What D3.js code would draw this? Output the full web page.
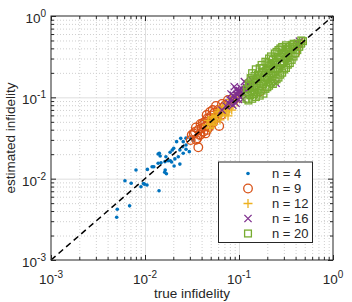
<!DOCTYPE html>
<html>
<head>
<meta charset="utf-8">
<script src="https://cdn.jsdelivr.net/npm/d3@7"></script>
<style>
  body { margin: 0; background: #fff; }
  text { font-family: "Liberation Sans", Arial, sans-serif; fill: #262626; }
</style>
</head>
<body>
<script>
// data: [true infidelity, estimated infidelity]
const n4 = [
  [0.0050, 0.00335], [0.00507, 0.0042], [0.00686, 0.00463], [0.00612, 0.00944], [0.00713, 0.00879],
  [0.00802, 0.0128], [0.00906, 0.00796], [0.00964, 0.00873], [0.00989, 0.00853], [0.0105, 0.00836],
  [0.0106, 0.0130], [0.0141, 0.00711], [0.0124, 0.0140], [0.0138, 0.0201], [0.0142, 0.0205],
  [0.0138, 0.0155], [0.0145, 0.0190], [0.0148, 0.0157], [0.0162, 0.0120], [0.0169, 0.0115],
  [0.0167, 0.0186], [0.0163, 0.0162], [0.0176, 0.0166], [0.0186, 0.0166], [0.0185, 0.0211],
  [0.0195, 0.0225], [0.0202, 0.0236], [0.0204, 0.0143], [0.0208, 0.0175], [0.0192, 0.0160],
  [0.0217, 0.0285], [0.0240, 0.0313], [0.0226, 0.0186], [0.0235, 0.0225], [0.0235, 0.0151],
  [0.0252, 0.0247], [0.0255, 0.0205], [0.0255, 0.0285], [0.0273, 0.0230], [0.0273, 0.0259],
  [0.0296, 0.0215], [0.0308, 0.0313], [0.0164, 0.0128], [0.0119, 0.0140], [0.0325, 0.0298],
  [0.0273, 0.0315]
];
const n9 = [
  [0.0314, 0.0344], [0.0360, 0.0313], [0.0369, 0.0243], [0.0401, 0.0416], [0.0435, 0.0501],
  [0.0453, 0.0607], [0.0483, 0.0552], [0.0525, 0.0698], [0.0616, 0.0445], [0.0340, 0.0375],
  [0.0382, 0.0344], [0.0414, 0.0457], [0.0468, 0.0470], [0.0491, 0.0661], [0.0542, 0.0557],
  [0.0569, 0.0783], [0.0600, 0.0700], [0.0659, 0.0828], [0.0764, 0.0927], [0.397, 0.354],
  [0.420, 0.440], [0.0306, 0.0298], [0.0457, 0.0398], [0.0600, 0.0640], [0.0348, 0.0426],
  [0.167, 0.118], [0.033, 0.036], [0.035, 0.030], [0.037, 0.040], [0.039, 0.035],
  [0.041, 0.048], [0.042, 0.038], [0.044, 0.044], [0.046, 0.055], [0.048, 0.043],
  [0.050, 0.050], [0.051, 0.060], [0.053, 0.049], [0.055, 0.065], [0.058, 0.057],
  [0.062, 0.068], [0.065, 0.061], [0.068, 0.075], [0.071, 0.080], [0.044, 0.036],
  [0.039, 0.047]
];
const n12 = [
  [0.0457, 0.0457], [0.0516, 0.0557], [0.0556, 0.0498], [0.0598, 0.0661], [0.0644, 0.0590],
  [0.0692, 0.0740], [0.0728, 0.0661], [0.0784, 0.0851], [0.0822, 0.0760], [0.0885, 0.0982],
  [0.0953, 0.0877], [0.103, 0.113], [0.0491, 0.0420], [0.0628, 0.0527], [0.0764, 0.0590],
  [0.0837, 0.0698], [0.474, 0.478], [0.0570, 0.0600], [0.0530, 0.0460], [0.047, 0.052],
  [0.050, 0.047], [0.054, 0.058], [0.058, 0.054], [0.061, 0.070], [0.066, 0.064],
  [0.070, 0.068], [0.074, 0.079], [0.079, 0.072], [0.086, 0.090], [0.091, 0.095],
  [0.098, 0.104], [0.067, 0.078], [0.072, 0.062], [0.081, 0.094], [0.106, 0.108]
];
const n16 = [
  [0.0891, 0.135], [0.114, 0.156], [0.0929, 0.0845], [0.248, 0.149], [0.421, 0.461],
  [0.440, 0.490], [0.0801, 0.0927], [0.0868, 0.106], [0.0975, 0.116], [0.105, 0.130],
  [0.116, 0.123], [0.125, 0.146], [0.103, 0.101], [0.0728, 0.0783], [0.0659, 0.0698],
  [0.0822, 0.110], [0.137, 0.163], [0.110, 0.095], [0.078, 0.085], [0.084, 0.091],
  [0.090, 0.099], [0.095, 0.108], [0.099, 0.094], [0.107, 0.118], [0.112, 0.110],
  [0.118, 0.135], [0.122, 0.127], [0.130, 0.140], [0.094, 0.125], [0.101, 0.121],
  [0.086, 0.080], [0.120, 0.118]
];
const n20 = [
  [0.120, 0.0960], [0.121, 0.126], [0.126, 0.0915], [0.125, 0.116], [0.127, 0.148],
  [0.132, 0.106], [0.131, 0.138], [0.133, 0.172], [0.138, 0.0960], [0.137, 0.121],
  [0.139, 0.157], [0.138, 0.198], [0.145, 0.110], [0.144, 0.139], [0.146, 0.183],
  [0.151, 0.101], [0.150, 0.131], [0.152, 0.167], [0.151, 0.221], [0.158, 0.115],
  [0.157, 0.151], [0.159, 0.190], [0.166, 0.105], [0.165, 0.138], [0.167, 0.175],
  [0.166, 0.228], [0.174, 0.121], [0.173, 0.157], [0.175, 0.201], [0.174, 0.250],
  [0.182, 0.111], [0.181, 0.146], [0.183, 0.181], [0.182, 0.230], [0.191, 0.127],
  [0.190, 0.165], [0.192, 0.210], [0.191, 0.274], [0.200, 0.133], [0.199, 0.173],
  [0.201, 0.220], [0.200, 0.262], [0.209, 0.139], [0.208, 0.190], [0.210, 0.241],
  [0.209, 0.300], [0.219, 0.152], [0.218, 0.199], [0.220, 0.252], [0.219, 0.318],
  [0.229, 0.146], [0.228, 0.183], [0.230, 0.228], [0.229, 0.289], [0.240, 0.159],
  [0.239, 0.208], [0.241, 0.264], [0.240, 0.346], [0.251, 0.167], [0.250, 0.220],
  [0.252, 0.274], [0.251, 0.362], [0.263, 0.175], [0.262, 0.228], [0.264, 0.303],
  [0.263, 0.381], [0.275, 0.190], [0.274, 0.252], [0.276, 0.315], [0.275, 0.399],
  [0.288, 0.201], [0.287, 0.262], [0.289, 0.348], [0.288, 0.416], [0.302, 0.220],
  [0.301, 0.276], [0.303, 0.346], [0.316, 0.230], [0.315, 0.301], [0.317, 0.381],
  [0.316, 0.436], [0.331, 0.252], [0.330, 0.317], [0.332, 0.397], [0.347, 0.264],
  [0.346, 0.330], [0.348, 0.418], [0.363, 0.289], [0.362, 0.346], [0.364, 0.438],
  [0.380, 0.317], [0.379, 0.397], [0.381, 0.456], [0.398, 0.348], [0.397, 0.418],
  [0.417, 0.381], [0.416, 0.456], [0.437, 0.418], [0.457, 0.457], [0.479, 0.490],
  [0.460, 0.500]
];
const seriesNames = ["n = 4", "n = 9", "n = 12", "n = 16", "n = 20"];
const decades = [1e-3, 1e-2, 1e-1, 1];
const decadeExp = ["-3", "-2", "-1", "0"];

const colors = ["#0072BD", "#D95319", "#EDB120", "#7E2F8E", "#77AC30"];
const shapes = ["dot", "circle", "plus", "cross", "square"];
const allSeries = [n4, n9, n12, n16, n20];

const w = 352, h = 302;
const pLeft = 51, pRight = 333, pTop = 16, pBottom = 260;

const x = d3.scaleLog().domain([1e-3, 1]).range([pLeft, pRight]);
const y = d3.scaleLog().domain([1e-3, 1]).range([pBottom, pTop]);

const minorTicks = [];
decades.slice(0, 3).forEach(d => { for (let k = 2; k <= 9; k++) minorTicks.push(d * k); });

const svg = d3.select("body").append("svg").attr("width", w).attr("height", h);

// grid
function gridX(vals, color, dash) {
  const g = svg.append("g").attr("transform", `translate(0,${pBottom})`)
    .call(d3.axisBottom(x).tickValues(vals).tickSize(-(pBottom - pTop)).tickFormat(""));
  g.select(".domain").remove();
  g.selectAll("line").attr("stroke", color).attr("stroke-dasharray", dash);
}
function gridY(vals, color, dash) {
  const g = svg.append("g").attr("transform", `translate(${pLeft},0)`)
    .call(d3.axisLeft(y).tickValues(vals).tickSize(-(pRight - pLeft)).tickFormat(""));
  g.select(".domain").remove();
  g.selectAll("line").attr("stroke", color).attr("stroke-dasharray", dash);
}
gridX(minorTicks, "#cfcfcf", "1,2");
gridY(minorTicks, "#cfcfcf", "1,2");
gridX([1e-2, 1e-1], "#dedede", null);
gridY([1e-2, 1e-1], "#dedede", null);

// markers
function drawMarker(sel, shape, color) {
  if (shape === "dot") {
    sel.append("circle").attr("r", 1.8).attr("fill", color);
  } else if (shape === "circle") {
    sel.append("circle").attr("r", 4.3).attr("fill", "none").attr("stroke", color).attr("stroke-width", 1.3);
  } else if (shape === "plus") {
    sel.append("path").attr("d", "M-4.5,0H4.5M0,-4.5V4.5").attr("stroke", color).attr("stroke-width", 1.3);
  } else if (shape === "cross") {
    sel.append("path").attr("d", "M-3.6,-3.6L3.6,3.6M-3.6,3.6L3.6,-3.6").attr("stroke", color).attr("stroke-width", 1.3);
  } else {
    sel.append("rect").attr("x", -3.4).attr("y", -3.4).attr("width", 6.8).attr("height", 6.8)
      .attr("fill", "none").attr("stroke", color).attr("stroke-width", 1.3);
  }
}

allSeries.forEach((data, i) => {
  const pts = svg.append("g").selectAll("g").data(data).join("g")
    .attr("transform", d => `translate(${x(d[0])},${y(d[1])})`);
  drawMarker(pts, shapes[i], colors[i]);
});

// y = x reference line
svg.append("line")
  .attr("x1", x(1e-3)).attr("y1", y(1e-3)).attr("x2", x(1)).attr("y2", y(1))
  .attr("stroke", "#000").attr("stroke-width", 1.5).attr("stroke-dasharray", "6,4");

// axes box and inward ticks
function ticks(axisFn, pos, vals, len) {
  const g = svg.append("g").attr("transform", pos)
    .call(axisFn.tickValues(vals).tickSize(-len).tickFormat(""));
  g.select(".domain").remove();
  g.selectAll("line").attr("stroke", "#262626");
}
[[decades, 5], [minorTicks, 3]].forEach(([vals, len]) => {
  ticks(d3.axisBottom(x), `translate(0,${pBottom})`, vals, len);
  ticks(d3.axisTop(x), `translate(0,${pTop})`, vals, len);
  ticks(d3.axisLeft(y), `translate(${pLeft},0)`, vals, len);
  ticks(d3.axisRight(y), `translate(${pRight},0)`, vals, len);
});
svg.append("rect").attr("x", pLeft).attr("y", pTop)
  .attr("width", pRight - pLeft).attr("height", pBottom - pTop)
  .attr("fill", "none").attr("stroke", "#262626").attr("stroke-width", 1);

// tick labels 10^k
decades.forEach((d, i) => {
  const tx = svg.append("text").attr("x", x(d)).attr("y", 284)
    .attr("text-anchor", "middle").attr("font-size", 13.5);
  tx.append("tspan").text("10");
  tx.append("tspan").attr("dy", -6).attr("font-size", 10).text(decadeExp[i]);

  const ty = svg.append("text").attr("x", 46).attr("y", y(d) + 7)
    .attr("text-anchor", "end").attr("font-size", 13.5);
  ty.append("tspan").text("10");
  ty.append("tspan").attr("dy", -6).attr("font-size", 10).text(decadeExp[i]);
});

// axis titles
svg.append("text").attr("x", (pLeft + pRight) / 2).attr("y", 298)
  .attr("text-anchor", "middle").attr("font-size", 13.5).text("true infidelity");
svg.append("text").attr("transform", `translate(14.5,${(pTop + pBottom) / 2}) rotate(-90)`)
  .attr("text-anchor", "middle").attr("font-size", 13.5).text("estimated infidelity");

// legend
const lg = svg.append("g");
lg.append("rect").attr("x", 218.5).attr("y", 162).attr("width", 94).attr("height", 80.5)
  .attr("fill", "#fff").attr("stroke", "#262626").attr("stroke-width", 1);
seriesNames.forEach((name, i) => {
  const yy = 173.5 + i * 15;
  const m = lg.append("g").attr("transform", `translate(248,${yy})`);
  drawMarker(m, shapes[i], colors[i]);
  lg.append("text").attr("x", 272).attr("y", yy + 4.5).attr("font-size", 13).text(name);
});
</script>
</body>
</html>
